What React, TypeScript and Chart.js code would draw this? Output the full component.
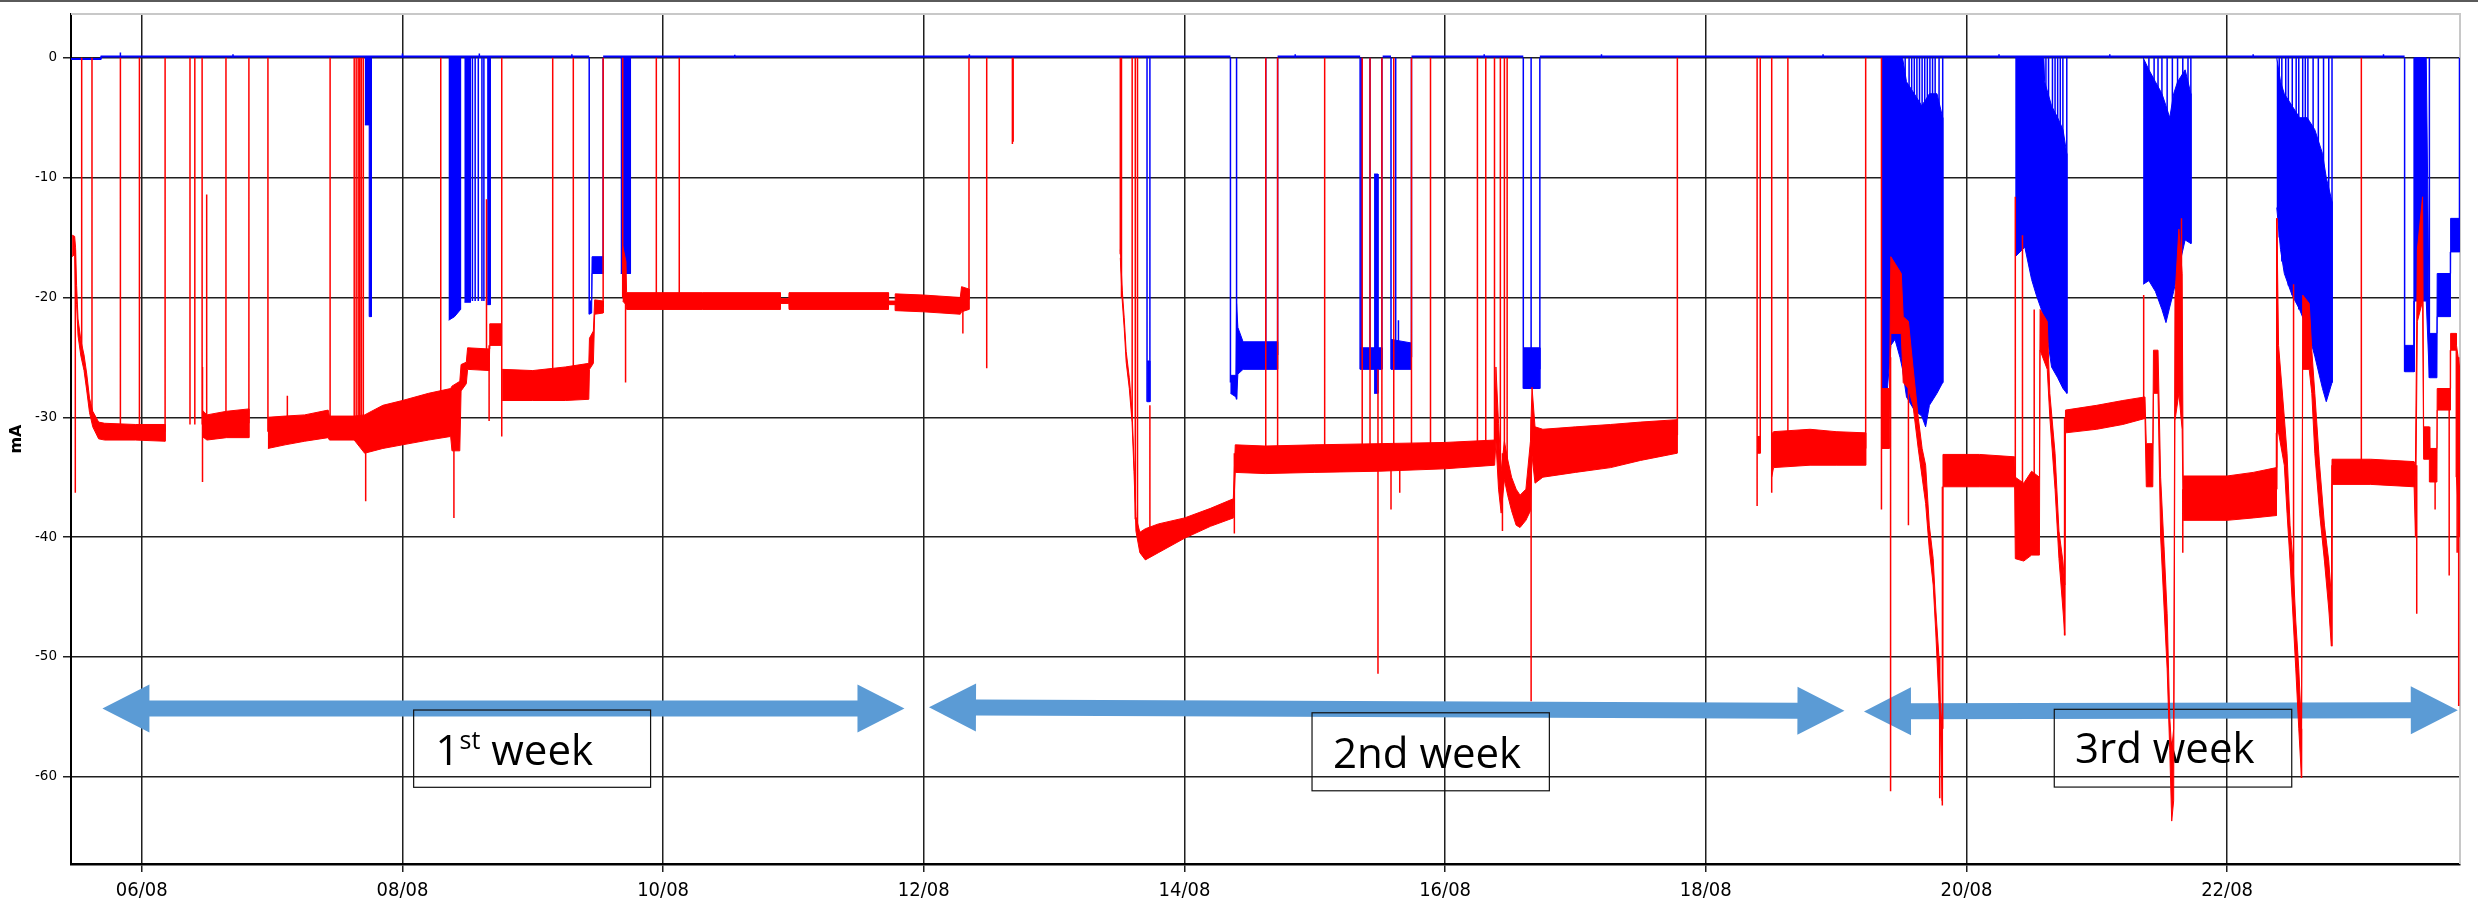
import { useEffect, useRef } from "react";
import { Chart, registerables } from "chart.js";

Chart.register(...registerables);

// Day-of-August axis (fractional days) and current axis (mA)
const X_MIN = 5.457;
const X_MAX = 23.787;
const Y_MIN = -67.28;
const Y_MAX = 3.647;

const X_TICKS = [6, 8, 10, 12, 14, 16, 18, 20, 22];
const X_TICK_LABELS = ["06/08", "08/08", "10/08", "12/08", "14/08", "16/08", "18/08", "20/08", "22/08"];
const Y_TICKS = [0, -10, -20, -30, -40, -50, -60];

const RED = "#ff0000";
const BLUE = "#0000ff";
const ARROW_COLOR = "#5b9bd5";

type Band = [number, number, number] | null; // [day, low mA, high mA]
type Spike = [number, number, number]; // [day, from mA, to mA]
type Pt = [number, number] | null; // [day, mA]

// Red trace: noisy envelope of each running stretch
const RED_BAND: Band[] = [
  [5.466, -16.6, -14.8], [5.485, -16.4, -14.9], [5.492, -19.6, -15.8], [5.5, -20.6, -19.0],
  [5.511, -23.2, -21.8], [5.533, -24.9, -23.6], [5.557, -26.1, -24.8], [5.578, -27.8, -26.4],
  [5.599, -29.6, -28.4], [5.624, -30.8, -29.5], [5.669, -31.8, -30.4], [5.715, -31.9, -30.5],
  [5.95, -31.9, -30.6], [6.179, -32.0, -30.6],
  null,
  [6.464, -31.6, -29.4], [6.5, -31.9, -29.8], [6.65, -31.7, -29.5], [6.822, -31.7, -29.3],
  null,
  [6.968, -32.6, -30.0], [7.1, -32.3, -29.9], [7.25, -32.0, -29.8], [7.43, -31.7, -29.4],
  [7.44, -31.9, -29.9], [7.63, -31.9, -29.9], [7.71, -33.0, -29.8], [7.85, -32.6, -29.0],
  [8.0, -32.3, -28.6], [8.2, -31.9, -28.0], [8.37, -31.6, -27.6], [8.38, -32.8, -27.4],
  [8.44, -32.8, -27.0], [8.45, -27.8, -25.6], [8.49, -27.2, -25.4], [8.5, -26.0, -24.2],
  [8.665, -26.1, -24.3], [8.67, -24.0, -22.2], [8.76, -24.0, -22.2],
  null,
  [8.765, -28.6, -26.0], [9.0, -28.6, -26.1], [9.25, -28.6, -25.8], [9.43, -28.5, -25.5],
  [9.435, -26.0, -23.4], [9.465, -25.5, -22.8], [9.475, -21.4, -20.2], [9.54, -21.3, -20.3],
  null,
  [9.69, -20.3, -15.7], [9.715, -20.6, -17.0], [9.72, -21.0, -19.6], [10.3, -21.0, -19.6],
  [10.899, -21.0, -19.6], [10.9, -20.5, -20.1], [10.965, -20.5, -20.1], [10.966, -21.0, -19.6],
  [11.728, -21.0, -19.6], [11.73, -20.6, -20.3], [11.78, -20.6, -20.3], [11.781, -21.1, -19.7],
  [12.0, -21.2, -19.8], [12.28, -21.4, -20.0], [12.29, -21.2, -19.1], [12.347, -21.0, -19.3],
  null,
  [13.508, -16.7, -16.0], [13.523, -20.3, -19.4], [13.538, -22.6, -21.7], [13.553, -25.4, -24.5],
  [13.577, -27.6, -26.7], [13.598, -30.4, -29.5], [13.613, -34.5, -33.6], [13.628, -39.5, -38.3],
  [13.658, -41.3, -39.6], [13.7, -41.9, -39.3], [13.8, -41.3, -38.9], [14.0, -40.1, -38.4],
  [14.2, -39.1, -37.6], [14.375, -38.4, -36.8], [14.39, -34.6, -32.3], [14.62, -34.7, -32.4],
  [15.0, -34.6, -32.3], [15.5, -34.5, -32.2], [16.0, -34.3, -32.1], [16.38, -34.0, -31.9],
  [16.39, -32.0, -25.8], [16.41, -36.0, -30.5], [16.43, -38.0, -34.5], [16.455, -35.2, -32.0],
  [16.48, -36.5, -33.5], [16.51, -37.8, -35.0], [16.545, -39.0, -36.0], [16.575, -39.2, -36.5],
  [16.62, -38.6, -36.0], [16.655, -37.8, -32.0], [16.667, -33.2, -27.5], [16.69, -35.5, -30.8],
  [16.75, -35.0, -31.0], [17.0, -34.6, -30.8], [17.27, -34.2, -30.6], [17.5, -33.6, -30.4],
  [17.78, -33.0, -30.2],
  null,
  [18.394, -33.0, -31.6], [18.418, -33.0, -31.6],
  null,
  [18.506, -35.0, -31.4], [18.52, -34.2, -31.2], [18.8, -34.0, -31.0], [19.0, -34.0, -31.2],
  [19.227, -34.0, -31.3],
  null,
  [19.352, -32.6, -27.6], [19.41, -32.6, -27.6], [19.42, -23.0, -16.6], [19.5, -23.0, -18.0],
  [19.515, -27.1, -21.6], [19.555, -27.6, -22.0], [19.59, -29.0, -25.8], [19.63, -32.6, -30.0],
  [19.66, -35.0, -32.6], [19.687, -37.2, -34.0], [19.715, -41.0, -39.0], [19.745, -44.0, -41.8],
  [19.765, -48.0, -46.0], [19.789, -53.7, -50.0], [19.8, -56.0, -54.0], [19.815, -62.0, -56.0],
  [19.82, -35.8, -33.1], [20.1, -35.8, -33.1], [20.37, -35.8, -33.3], [20.375, -41.8, -35.0],
  [20.44, -42.0, -35.5], [20.5, -41.5, -34.5], [20.56, -41.5, -35.0], [20.565, -24.4, -21.0],
  [20.62, -26.0, -22.0], [20.64, -30.0, -28.0], [20.68, -36.0, -33.0], [20.71, -41.8, -39.5],
  [20.74, -46.0, -42.0], [20.755, -48.2, -44.0], [20.76, -31.3, -29.4], [21.0, -31.0, -29.0],
  [21.2, -30.6, -28.6], [21.37, -30.1, -28.3], [21.38, -35.8, -32.2], [21.43, -35.8, -32.2],
  [21.435, -28.0, -24.4], [21.47, -28.0, -24.4], [21.49, -40.0, -35.0], [21.517, -46.0, -41.0],
  [21.54, -51.0, -46.4], [21.56, -57.8, -55.0], [21.575, -63.7, -57.8], [21.59, -62.0, -56.0],
  [21.6, -30.3, -20.0], [21.63, -28.0, -14.3], [21.655, -31.0, -18.0], [21.663, -38.6, -34.9],
  [22.0, -38.6, -34.9], [22.2, -38.4, -34.6], [22.378, -38.2, -34.2], [22.382, -31.3, -13.4],
  [22.395, -31.3, -24.0], [22.439, -34.0, -30.0], [22.46, -38.0, -33.0], [22.483, -42.0, -39.0],
  [22.505, -46.5, -42.0], [22.527, -51.0, -47.0], [22.55, -56.0, -51.0], [22.571, -60.1, -56.0],
  [22.58, -26.0, -19.8], [22.63, -26.0, -20.5], [22.65, -28.0, -24.4], [22.673, -33.0, -28.0],
  [22.71, -38.0, -34.0], [22.747, -42.0, -39.0], [22.78, -46.0, -42.0], [22.8, -49.1, -45.0],
  [22.805, -35.6, -33.5], [23.1, -35.6, -33.5], [23.435, -35.8, -33.7], [23.445, -40.0, -34.0],
  [23.46, -22.0, -16.0], [23.5, -20.3, -11.6], [23.508, -33.5, -30.8], [23.552, -33.5, -30.8],
  [23.555, -35.4, -32.6], [23.61, -35.4, -32.6], [23.612, -29.4, -27.6], [23.713, -29.4, -27.6],
  [23.715, -24.4, -23.0], [23.757, -24.4, -23.0], [23.76, -35.0, -24.0], [23.786, -40.0, -26.0],
  null,
];

// Red single-sample excursions
const RED_SPIKES: Spike[] = [
  [5.49, -16.0, -36.3], [5.539, -24.2, 0], [5.618, -30.0, 0], [5.836, -31.2, 0], [5.982, -31.2, 0],
  [6.179, -31.2, 0], [6.37, 0, -30.6], [6.407, 0, -30.6], [6.463, 0, -30.6], [6.466, -25.8, -35.4],
  [6.498, -30.5, -11.4], [6.646, -30.5, 0], [6.822, -30.5, 0], [6.968, 0, -31.2], [7.117, -30.0, -28.2],
  [7.445, -30.8, 0], [7.63, -30.8, 0], [7.645, -30.8, 0], [7.66, -30.8, 0], [7.672, -30.8, 0],
  [7.685, -30.8, 0], [7.7, -30.8, 0], [7.718, -31.0, -37.0], [8.294, 0, -28.5], [8.395, -30.0, -38.4],
  [8.645, -25.0, -11.8], [8.665, -24.5, -30.3], [8.762, 0, -31.6], [9.153, -27.2, 0], [9.311, -27.2, 0],
  [9.54, -20.8, 0], [9.69, 0, -20.0], [9.712, -20.0, -27.1], [9.948, -20.3, 0], [10.124, -20.3, 0],
  [12.3, -20.0, -23.0], [12.347, -20.2, 0], [12.483, 0, -25.9], [12.68, 0, -7.2], [12.686, 0, -7.0],
  [13.508, 0, -16.4], [13.517, 0, -20.0], [13.599, 0, -30.0], [13.623, 0, -38.5], [13.64, 0, -40.0],
  [13.735, -29.0, -40.0], [14.383, -33.0, -39.7], [14.624, -33.5, 0], [14.715, -33.5, 0],
  [15.076, -33.2, 0], [15.364, -33.2, 0], [15.424, -33.2, 0], [15.485, -26.0, -51.4], [15.515, -33.2, 0],
  [15.585, -33.0, -37.7], [15.606, -33.0, 0], [15.652, -33.0, -36.3], [15.742, -33.0, 0],
  [15.888, -33.0, 0], [16.248, -33.0, 0], [16.312, -33.0, 0], [16.379, -33.0, 0], [16.424, -35.0, 0],
  [16.44, -33.0, -39.5], [16.455, -34.0, 0], [16.476, -35.0, 0], [16.66, -30.0, -53.7],
  [17.782, -31.5, 0], [18.394, 0, -37.4], [18.418, -32.3, 0], [18.506, 0, -36.3], [18.63, -32.5, 0],
  [19.227, -32.6, 0], [19.348, 0, -37.7], [19.418, -25.0, -61.2], [19.555, -25.0, -39.0],
  [19.795, -50.0, -61.8], [19.815, -55.0, -62.4], [20.375, -36.0, -11.6], [20.43, -38.0, -14.8],
  [20.52, -38.0, -21.0], [20.753, -30.0, -48.2], [21.36, -29.0, -19.8], [21.65, -30.0, -13.4],
  [21.66, -36.0, -41.3], [22.381, -36.0, -13.4], [22.51, -45.0, -18.9], [22.571, -56.0, -60.1],
  [22.805, -34.0, -49.1], [23.03, -34.5, 0], [23.455, -34.0, -46.4], [23.596, -33.5, -37.7],
  [23.704, -28.5, -43.2], [23.765, -25.0, -41.3], [23.777, -25.0, -54.1],
];

// Blue trace resting at zero
const BLUE_BASE: Pt[] = [
  [5.457, -0.1], [5.684, -0.1], [5.69, 0.1], [9.433, 0.1], null,
  [9.54, 0.1], [14.353, 0.1], null,
  [14.715, 0.1], [15.348, 0.1], null,
  [15.521, 0.1], [15.585, 0.1], null,
  [15.742, 0.1], [16.6, 0.1], null,
  [16.727, 0.1], [23.362, 0.1], null,
];

// Blue trace: noisy stretches and dense oscillation blocks
const BLUE_BAND: Band[] = [
  [7.712, -5.6, 0], [7.745, -5.6, 0], [7.748, -21.6, 0], [7.762, -21.6, 0], null,
  [8.355, -21.9, 0], [8.4, -21.6, 0], [8.446, -21.0, 0], null,
  [8.476, -20.4, 0], [8.522, -20.4, 0], null,
  [8.65, -20.6, 0], [8.674, -20.6, 0], null,
  [9.433, -21.4, -20.4], [9.452, -21.3, -20.2], [9.455, -18.0, -16.6], [9.54, -18.0, -16.6], null,
  [9.675, -18.0, 0], [9.75, -18.0, 0], null,
  [13.714, -28.7, -25.3], [13.734, -28.7, -25.3], null,
  [14.353, -28.0, -26.5], [14.395, -28.3, -26.5], [14.4, -28.5, -20.5], [14.41, -26.4, -22.5],
  [14.45, -26.0, -23.7], [14.715, -26.0, -23.7], null,
  [15.348, -26.0, -24.2], [15.515, -26.0, -24.2], null,
  [15.455, -28.0, -9.7], [15.485, -28.0, -9.7], null,
  [15.585, -26.0, -23.5], [15.742, -26.0, -23.8], null,
  [16.6, -27.6, -24.2], [16.727, -27.6, -24.2], null,
  [19.348, -27.6, 0], [19.394, -27.6, 0], [19.42, -24.0, 0], [19.452, -23.5, 0], [19.49, -25.0, 0],
  [19.51, -26.0, 0], [19.54, -28.3, -2.0], [19.6, -29.4, -3.0], [19.657, -29.9, -4.0],
  [19.687, -30.8, -3.5], [19.716, -29.0, -3.0], [19.774, -28.0, -3.0], [19.818, -27.1, -5.0], null,
  [20.375, -16.6, 0], [20.448, -15.8, 0], [20.5, -18.5, 0], [20.536, -19.8, 0], [20.594, -21.6, 0],
  [20.6, -21.8, -2.0], [20.653, -25.8, -4.0], [20.7, -26.7, -5.0], [20.741, -27.6, -6.0],
  [20.77, -28.0, -8.0], null,
  [21.356, -18.9, 0], [21.4, -18.6, -1.0], [21.45, -19.5, -2.0], [21.5, -21.0, -3.0],
  [21.531, -22.1, -4.0], [21.56, -20.8, -5.0], [21.59, -19.5, -3.0], [21.62, -18.0, -2.0],
  [21.678, -15.2, -1.0], [21.722, -15.5, -3.0], null,
  [22.381, -12.5, 0], [22.41, -16.0, -2.0], [22.439, -18.0, -3.0], [22.498, -19.8, -4.0],
  [22.556, -21.0, -5.0], [22.615, -22.6, -5.0], [22.673, -24.9, -6.0], [22.732, -27.6, -8.0],
  [22.761, -28.7, -10.0], [22.805, -27.1, -12.0], null,
  [23.362, -26.2, -24.0], [23.435, -26.2, -24.0], [23.438, -20.3, 0], [23.528, -20.3, 0],
  [23.552, -26.7, -23.0], [23.61, -26.7, -23.0], [23.612, -21.6, -18.0], [23.713, -21.6, -18.0],
  [23.715, -16.2, -13.4], [23.786, -16.2, -13.4], null,
];

const BLUE_SPIKES: Spike[] = [
  [5.836, 0, 0.45], [6.7, 0, 0.3], [8.0, 0, 0.35], [8.59, 0, 0.35], [9.3, 0, 0.3], [10.55, 0, 0.25],
  [12.35, 0, 0.3], [14.85, 0, 0.3], [16.3, 0, 0.3], [17.2, 0, 0.3], [18.9, 0, 0.3], [20.25, 0, 0.3],
  [21.1, 0, 0.3], [22.2, 0, 0.3], [23.2, 0, 0.3],
  [8.537, 0, -20.3], [8.558, 0, -20.3], [8.582, 0, -20.3], [8.61, 0, -20.3], [8.625, 0, -20.3],
  [9.433, 0, -21.4], [9.54, -17.3, 0], [13.713, 0, -28.7], [13.735, 0, -28.7],
  [14.353, 0, -27.1], [14.4, 0, -28.5], [14.624, 0, -24.8], [14.715, -24.8, 0],
  [15.348, 0, -26.0], [15.36, 0, -26.0], [15.424, 0, -26.0], [15.515, 0, -26.0],
  [15.585, 0, -26.0], [15.621, 0, -25.0], [15.642, -21.9, -25.0], [15.742, -25.0, 0],
  [16.6, 0, -27.6], [16.66, 0, -26.5], [16.727, -26.0, 0],
  [19.53, 0, -20.0], [19.56, 0, -25.0], [19.58, 0, -24.0], [19.6, 0, -26.0], [19.62, 0, -27.0],
  [19.64, 0, -27.0], [19.66, 0, -26.0], [19.68, 0, -28.0], [19.7, 0, -27.0], [19.72, 0, -26.0],
  [19.74, 0, -26.0], [19.76, 0, -25.0], [19.79, 0, -25.0], [19.818, 0, -27.1],
  [20.61, 0, -20.0], [20.63, 0, -21.0], [20.66, 0, -22.0], [20.68, 0, -23.0], [20.7, 0, -25.0],
  [20.72, 0, -25.0], [20.74, 0, -26.0], [20.77, 0, -28.0],
  [21.4, 0, -18.0], [21.44, 0, -19.0], [21.47, 0, -19.0], [21.5, 0, -20.0], [21.54, 0, -20.0],
  [21.58, 0, -19.0], [21.62, 0, -17.0], [21.66, 0, -15.0], [21.7, 0, -15.0], [21.722, 0, -15.5],
  [22.4, 0, -15.0], [22.42, 0, -17.0], [22.45, 0, -18.0], [22.47, 0, -19.0], [22.5, 0, -19.8],
  [22.53, 0, -20.0], [22.55, 0, -21.0], [22.58, 0, -21.0], [22.6, 0, -22.0], [22.62, 0, -22.6],
  [22.66, 0, -24.0], [22.7, 0, -25.0], [22.74, 0, -26.0], [22.78, 0, -27.0], [22.805, 0, -27.1],
  [23.362, 0, -26.2], [23.435, 0, -26.2], [23.552, 0, -26.7], [23.783, 0, -16.2],
];

// Week annotations (day / mA coordinates)
const WEEK_ARROWS = [
  { from: 5.698, to: 11.852, yFrom: -54.3, yTo: -54.3 },
  { from: 12.04, to: 19.064, yFrom: -54.2, yTo: -54.5 },
  { from: 19.214, to: 23.77, yFrom: -54.55, yTo: -54.45 },
];
const WEEK_BOXES = [
  { x0: 8.086, x1: 9.904, y0: -54.43, y1: -60.88 },
  { x0: 14.979, x1: 16.8, y0: -54.66, y1: -61.17 },
  { x0: 20.674, x1: 22.496, y0: -54.37, y1: -60.86 },
];
const WEEK_LABELS = [
  { x: 8.254, y: -59.02, parts: [{ t: "1", sup: false }, { t: "st", sup: true }, { t: " week", sup: false }] },
  { x: 15.14, y: -59.25, parts: [{ t: "2nd week", sup: false }] },
  { x: 20.833, y: -58.88, parts: [{ t: "3rd week", sup: false }] },
];

function segmentsOf(rows: Band[]): [number, number, number][][] {
  const out: [number, number, number][][] = [];
  let cur: [number, number, number][] = [];
  for (const r of rows) {
    if (r === null) {
      if (cur.length) out.push(cur);
      cur = [];
    } else cur.push(r);
  }
  if (cur.length) out.push(cur);
  return out;
}

function bandShape(seg: [number, number, number][]) {
  const top = seg.map(([x, , hi]) => ({ x, y: hi }));
  const bottom = seg.slice().reverse().map(([x, lo]) => ({ x, y: lo }));
  return [...top, ...bottom];
}

function spikePoints(spikes: Spike[]) {
  const pts: { x: number; y: number | null }[] = [];
  for (const [x, a, b] of spikes) pts.push({ x, y: a }, { x, y: b }, { x, y: null });
  return pts;
}

function linePoints(rows: Pt[]) {
  const pts: { x: number; y: number | null }[] = [];
  let last = X_MIN;
  for (const r of rows) {
    if (r === null) pts.push({ x: last, y: null });
    else {
      pts.push({ x: r[0], y: r[1] });
      last = r[0];
    }
  }
  return pts;
}

function bandDatasets(rows: Band[], color: string, order: number) {
  return segmentsOf(rows).map((seg) => ({
    data: bandShape(seg),
    borderColor: color,
    backgroundColor: color,
    borderWidth: 1,
    fill: "shape" as const,
    order,
  }));
}

function drawDoubleArrow(ctx: CanvasRenderingContext2D, x1: number, y1: number, x2: number, y2: number) {
  const dx = x2 - x1;
  const dy = y2 - y1;
  const len = Math.hypot(dx, dy);
  const ux = dx / len;
  const uy = dy / len;
  const nx = -uy;
  const ny = ux;
  const HL = 47;
  const HH = 24;
  const SH = 8;
  const p = (s: number, t: number) => [x1 + ux * s + nx * t, y1 + uy * s + ny * t];
  const pts = [
    p(0, 0), p(HL, HH), p(HL, SH), p(len - HL, SH), p(len - HL, HH),
    p(len, 0), p(len - HL, -HH), p(len - HL, -SH), p(HL, -SH), p(HL, -HH),
  ];
  ctx.beginPath();
  pts.forEach(([x, y], i) => (i ? ctx.lineTo(x, y) : ctx.moveTo(x, y)));
  ctx.closePath();
  ctx.fill();
}

const weekNotes = {
  id: "weekNotes",
  beforeDatasetsDraw(chart: Chart) {
    const { ctx, chartArea: a } = chart;
    const xs = chart.scales.x;
    const ys = chart.scales.y;
    ctx.save();

    // light frame along the top and right of the plot
    ctx.strokeStyle = "#c8c8c8";
    ctx.lineWidth = 2;
    ctx.beginPath();
    ctx.moveTo(a.left, a.top);
    ctx.lineTo(a.right, a.top);
    ctx.lineTo(a.right, a.bottom);
    ctx.stroke();

    ctx.fillStyle = ARROW_COLOR;
    for (const w of WEEK_ARROWS) {
      drawDoubleArrow(
        ctx,
        xs.getPixelForValue(w.from),
        ys.getPixelForValue(w.yFrom),
        xs.getPixelForValue(w.to),
        ys.getPixelForValue(w.yTo)
      );
    }

    ctx.strokeStyle = "#111";
    ctx.lineWidth = 1.2;
    for (const b of WEEK_BOXES) {
      const x0 = xs.getPixelForValue(b.x0);
      const x1 = xs.getPixelForValue(b.x1);
      const y0 = ys.getPixelForValue(b.y0);
      const y1 = ys.getPixelForValue(b.y1);
      ctx.strokeRect(x0, y0, x1 - x0, y1 - y0);
    }

    ctx.fillStyle = "#000";
    ctx.textBaseline = "alphabetic";
    ctx.textAlign = "left";
    for (const l of WEEK_LABELS) {
      let x = xs.getPixelForValue(l.x);
      const y = ys.getPixelForValue(l.y);
      for (const part of l.parts) {
        ctx.font = part.sup ? '25px "Open Sans", sans-serif' : '42px "Open Sans", sans-serif';
        ctx.fillText(part.t, x, part.sup ? y - 16 : y);
        x += ctx.measureText(part.t).width;
      }
    }
    ctx.restore();
  },
  afterDraw(chart: Chart) {
    const { ctx } = chart;
    ctx.save();
    ctx.fillStyle = "#5a5a5a";
    ctx.fillRect(0, 0, chart.width, 2);
    ctx.restore();
  },
};

export default function App() {
  const canvasRef = useRef<HTMLCanvasElement | null>(null);

  useEffect(() => {
    document.body.style.margin = "0";
    const canvas = canvasRef.current;
    if (!canvas) return;

    const datasets: any[] = [
      ...bandDatasets(RED_BAND, RED, 0),
      {
        data: spikePoints(RED_SPIKES),
        borderColor: RED,
        borderWidth: 1.5,
        fill: false,
        order: 0,
      },
      ...bandDatasets(BLUE_BAND, BLUE, 1),
      {
        data: linePoints(BLUE_BASE),
        borderColor: BLUE,
        borderWidth: 2,
        fill: false,
        order: 1,
      },
      {
        data: spikePoints(BLUE_SPIKES),
        borderColor: BLUE,
        borderWidth: 1.5,
        fill: false,
        order: 1,
      },
    ];

    const gridColor = "#1f1f1f";

    const chart = new Chart(canvas, {
      type: "line",
      data: { datasets },
      options: {
        animation: false,
        responsive: false,
        maintainAspectRatio: false,
        events: [],
        spanGaps: false,
        layout: { padding: { top: 14, right: 18, left: 0, bottom: 0 } },
        elements: {
          point: { radius: 0, hoverRadius: 0 },
          line: { tension: 0 },
        },
        plugins: {
          legend: { display: false },
          tooltip: { enabled: false },
        },
        scales: {
          x: {
            type: "linear",
            min: X_MIN,
            max: X_MAX,
            afterBuildTicks: (scale: any) => {
              scale.ticks = X_TICKS.map((value) => ({ value }));
            },
            afterFit: (scale: any) => {
              scale.height = 39;
            },
            ticks: {
              autoSkip: false,
              maxRotation: 0,
              minRotation: 0,
              padding: 7,
              color: "#000",
              font: { family: '"Liberation Sans Narrow", "DejaVu Sans Condensed", "Liberation Sans", sans-serif', size: 20 },
              callback: (_v: any, i: number) => X_TICK_LABELS[i],
            },
            grid: { color: gridColor, lineWidth: 1.5, tickLength: 8, tickColor: gridColor },
            border: { display: true, color: "#000", width: 2.5 },
          },
          y: {
            type: "linear",
            min: Y_MIN,
            max: Y_MAX,
            afterBuildTicks: (scale: any) => {
              scale.ticks = Y_TICKS.map((value) => ({ value }));
            },
            afterFit: (scale: any) => {
              scale.width = 71;
            },
            ticks: {
              padding: 6,
              color: "#000",
              font: { family: '"DejaVu Sans", Verdana, sans-serif', size: 13.5 },
              callback: (v: any) => String(v),
            },
            title: {
              display: true,
              text: "mA",
              color: "#000",
              font: { family: '"DejaVu Sans", Verdana, sans-serif', size: 16, weight: "bold" },
              padding: { top: 7, bottom: 0 },
            },
            grid: { color: gridColor, lineWidth: 1.5, tickLength: 8, tickColor: gridColor },
            border: { display: true, color: "#000", width: 2 },
          },
        },
      },
      plugins: [weekNotes],
    } as any);

    return () => chart.destroy();
  }, []);

  return (
    <div style={{ width: 2478, height: 903, background: "#fff" }}>
      <canvas ref={canvasRef} width={2478} height={903} style={{ display: "block", width: 2478, height: 903 }} />
    </div>
  );
}
